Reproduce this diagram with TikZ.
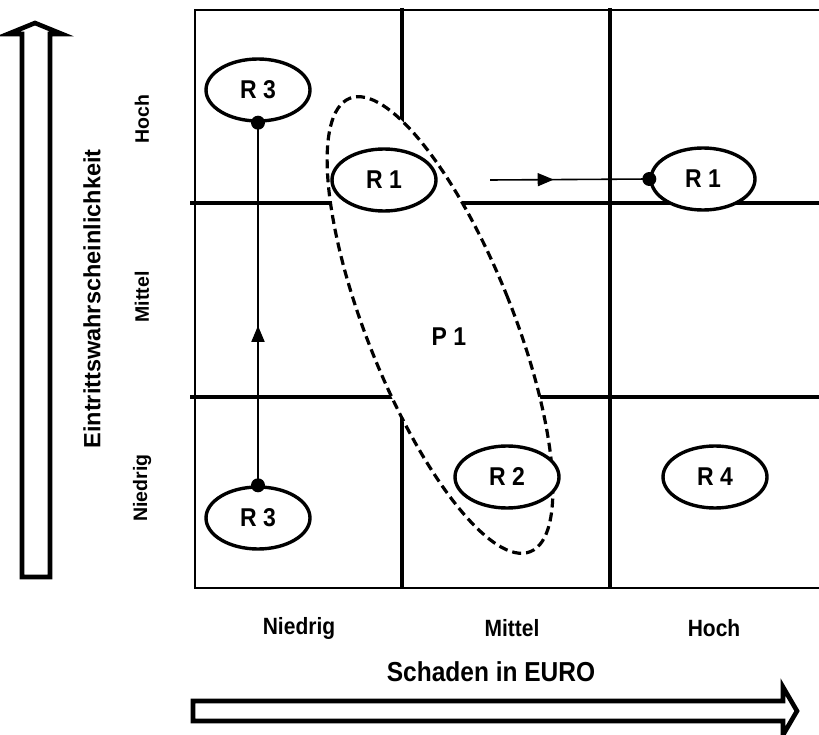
\documentclass[tikz,border=0pt]{standalone}
\usepackage{fontspec}
\setmainfont{Liberation Sans}
\usetikzlibrary{shapes.geometric,arrows.meta,decorations.markings}
\begin{document}
\begin{tikzpicture}[x=1pt,y=-1pt,
  hlbl/.style={font=\bfseries\fontsize{21}{24}\selectfont, inner sep=0pt, yscale=1.12},
  vlbl/.style={font=\bfseries\fontsize{19.5}{22}\selectfont, rotate=90, inner sep=0pt},
  risk/.style={ellipse, draw, line width=3.4pt, fill=white, minimum width=104pt, minimum height=62pt, inner sep=0pt},
  risktext/.style={font=\bfseries\fontsize{23}{24}\selectfont, inner sep=0pt, yscale=1.12},
  gridthin/.style={line width=2.6pt},
  gridthick/.style={line width=3.4pt},
  blockarrow/.style={line width=4.6pt, fill=white, line join=miter},
  dotm/.style={circle, fill=black, minimum size=14pt, inner sep=0pt},
  conn/.style={line width=1.6pt},
  midarrow/.style={postaction={decorate}, decoration={markings, mark=at position #1 with {\arrow{Triangle[length=16pt,width=13pt]}}}}
]
\useasboundingbox (0,0) rectangle (819,735);
\fill[white] (0,0) rectangle (819,735);

% grid
\draw[gridthin] (819,10) -- (195,10) -- (195,588) -- (819,588);
\draw[gridthick] (190,203) -- (819,203);
\draw[gridthick] (190,397) -- (819,397);
\draw[gridthick] (402,8) -- (402,588);
\draw[gridthick] (610,8) -- (610,588);

% P1 cluster
\node[ellipse, draw, fill=white, line width=3.2pt, dash pattern=on 9pt off 5pt,
      minimum width=146pt, minimum height=488pt, inner sep=0pt, rotate=21.7] (p1) at (440,325) {};
\node[risktext] (p1l) at (449,337) {P 1};

% risks
\node[risk] (r3t) at (258,90) {};
\node[risk] (r1a) at (384,180) {};
\node[risk] (r1b) at (703,179) {};
\node[risk] (r2) at (507,477) {};
\node[risk] (r4) at (715,477) {};
\node[risk] (r3b) at (258,518) {};
\node[risktext] (t3t) at (r3t) {R 3};
\node[risktext] (t1a) at (r1a) {R 1};
\node[risktext] (t1b) at (r1b) {R 1};
\node[risktext] (t2) at (r2) {R 2};
\node[risktext] (t4) at (r4) {R 4};
\node[risktext] (t3b) at (r3b) {R 3};

% connectors
\coordinate (r1start) at (490,180);
\draw[conn, midarrow=0.44] (r3b.north) -- (r3t.south);
\draw[conn, midarrow=0.40] (r1start) -- (r1b.west);
\node[dotm] (d1) at (r3t.south) {};
\node[dotm] (d2) at (r3b.north) {};
\node[dotm] (d3) at (r1b.west) {};

% axis labels
\node[vlbl] (yh) at (142,119) {Hoch};
\node[vlbl] (ym) at (142,297) {Mittel};
\node[vlbl] (yn) at (142,488) {Niedrig};
\node[font=\bfseries\fontsize{23.5}{26}\selectfont, rotate=90, inner sep=0pt] (ytitle) at (92,299) {Eintrittswahrscheinlichkeit};

\node[hlbl] (xn) at (299,628) {Niedrig};
\node[hlbl] (xm) at (512,628) {Mittel};
\node[hlbl] (xh) at (714,628) {Hoch};
\node[font=\bfseries\fontsize{24.5}{28}\selectfont, inner sep=0pt, yscale=1.12] (xtitle) at (491,672) {Schaden in EURO};

% block arrows
\draw[blockarrow] (22,577) -- (22,34) -- (8,34) -- (35,23) -- (62,34) -- (50,34) -- (50,577) -- cycle;
\draw[blockarrow] (193,701) -- (783,701) -- (783,687) -- (797,711) -- (783,735) -- (783,721) -- (193,721) -- cycle;
\end{tikzpicture}
\end{document}
